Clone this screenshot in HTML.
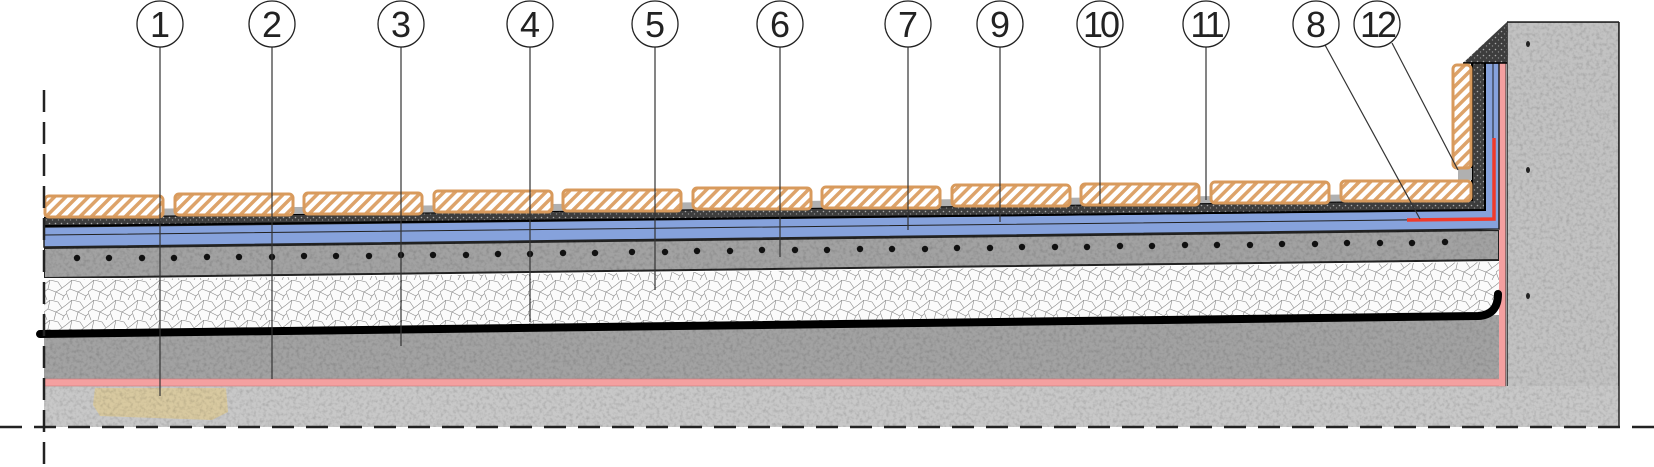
<!DOCTYPE html>
<html><head><meta charset="utf-8"><style>
html,body{margin:0;padding:0;background:#fff;}
svg{display:block;}
text{font-family:"Liberation Sans",sans-serif;}
</style></head><body>
<svg width="1654" height="467" viewBox="0 0 1654 467" xmlns="http://www.w3.org/2000/svg">
<defs>
<filter id="grain" x="0" y="0" width="100%" height="100%">
<feTurbulence type="fractalNoise" baseFrequency="0.3" numOctaves="2" seed="3" result="n"/>
<feColorMatrix in="n" type="matrix" values="0 0 0 0 0.5  0 0 0 0 0.5  0 0 0 0 0.5  0 0 0 1.2 -0.5" result="m"/>
<feComposite in="m" in2="SourceGraphic" operator="in" result="c"/>
<feBlend in="c" in2="SourceGraphic" mode="multiply"/>
</filter>
<pattern id="hatch" width="8" height="8" patternUnits="userSpaceOnUse" patternTransform="rotate(45)">
<rect width="8" height="8" fill="#fff"/><rect width="3.5" height="8" fill="#dda36a"/>
</pattern>
<pattern id="eps" width="22" height="20" patternUnits="userSpaceOnUse">
<rect width="22" height="20" fill="#fbfbfb"/>
<path d="M0 5 L6 0 L14 2 L18 8 L22 5 M6 0 L4 9 L0 12 M4 9 L12 12 L18 8 M12 12 L10 20 M12 12 L20 16 L22 14 M0 12 L3 20 M20 16 L18 20" stroke="#888" stroke-width="0.6" fill="none"/>
</pattern>
<pattern id="gravel" width="6" height="6" patternUnits="userSpaceOnUse">
<rect width="6" height="6" fill="#3d3d3d"/><circle cx="1.5" cy="1.5" r="0.8" fill="#aaa"/><circle cx="4.5" cy="4" r="0.7" fill="#888"/>
</pattern>
</defs>

<rect x="1507" y="22" width="112" height="405" fill="#c2c2c2" stroke="#222" stroke-width="1.5" filter="url(#grain)"/>
<rect x="44" y="386" width="1575" height="41" fill="#c8c8c8" filter="url(#grain)"/>
<line x1="1507" y1="22" x2="1619" y2="22" stroke="#222" stroke-width="1.5"/>
<line x1="1619" y1="22" x2="1619" y2="427" stroke="#222" stroke-width="1.5"/>
<ellipse cx="1528" cy="44" rx="2" ry="3" fill="#222"/>
<ellipse cx="1528" cy="170" rx="2" ry="3" fill="#222"/>
<ellipse cx="1528" cy="296" rx="2" ry="3" fill="#222"/>
<path d="M95 388 L226 388 L228 412 L212 420 L100 416 L93 405 Z" fill="#d8c9a0" filter="url(#grain)"/>

<polygon points="44,333 1499,315 1499,379 44,379" fill="#a2a2a2" filter="url(#grain)"/>
<rect x="44" y="379" width="1462" height="7" fill="#f4a0a0" stroke="#c77" stroke-width="0.6"/>
<rect x="1499" y="63" width="7" height="323" fill="#f4a0a0"/>
<line x1="1506" y1="63" x2="1506" y2="386" stroke="#333" stroke-width="1"/>

<path d="M44 280 L1499 262 L1499 292 Q1499 312 1480 313 L44 331 Z" fill="url(#eps)"/>
<path d="M40 334 L1478 316 Q1498 315 1498 294" stroke="#000" stroke-width="8" fill="none" stroke-linecap="round"/>

<polygon points="44,248 1499,230 1499,260 44,278" fill="#a2a2a2" stroke="#222" stroke-width="2" filter="url(#grain)"/>
<g fill="#111">
<circle cx="77" cy="258" r="3.2"/><circle cx="109" cy="258" r="3.2"/><circle cx="142" cy="258" r="3.2"/><circle cx="174" cy="258" r="3.2"/><circle cx="207" cy="257" r="3.2"/><circle cx="239" cy="257" r="3.2"/><circle cx="272" cy="257" r="3.2"/><circle cx="304" cy="256" r="3.2"/><circle cx="336" cy="256" r="3.2"/><circle cx="369" cy="256" r="3.2"/><circle cx="401" cy="255" r="3.2"/><circle cx="433" cy="255" r="3.2"/><circle cx="466" cy="255" r="3.2"/><circle cx="498" cy="254" r="3.2"/><circle cx="530" cy="254" r="3.2"/><circle cx="563" cy="253" r="3.2"/><circle cx="595" cy="253" r="3.2"/><circle cx="632" cy="252" r="3.2"/><circle cx="665" cy="252" r="3.2"/><circle cx="697" cy="251" r="3.2"/><circle cx="730" cy="251" r="3.2"/><circle cx="762" cy="250" r="3.2"/><circle cx="795" cy="250" r="3.2"/><circle cx="827" cy="250" r="3.2"/><circle cx="860" cy="249" r="3.2"/><circle cx="892" cy="249" r="3.2"/><circle cx="925" cy="249" r="3.2"/><circle cx="957" cy="248" r="3.2"/><circle cx="990" cy="248" r="3.2"/><circle cx="1022" cy="247" r="3.2"/><circle cx="1055" cy="247" r="3.2"/><circle cx="1087" cy="247" r="3.2"/><circle cx="1120" cy="246" r="3.2"/><circle cx="1152" cy="246" r="3.2"/><circle cx="1185" cy="245" r="3.2"/><circle cx="1217" cy="245" r="3.2"/><circle cx="1250" cy="245" r="3.2"/><circle cx="1282" cy="244" r="3.2"/><circle cx="1315" cy="244" r="3.2"/><circle cx="1347" cy="243" r="3.2"/><circle cx="1380" cy="243" r="3.2"/><circle cx="1412" cy="243" r="3.2"/><circle cx="1445" cy="242" r="3.2"/>
</g>

<path d="M44 227 L1485 210 L1485 63 L1499 63 L1499 229 L44 247 Z" fill="#86a2dc" stroke="#222" stroke-width="1.5"/>
<path d="M44 235 L1493 219 L1493 63" stroke="#222" stroke-width="1" fill="none"/>
<path d="M1407 220 L1494 219 L1494 138" stroke="#f03a2a" stroke-width="3.5" fill="none"/>

<path d="M44 217 L1472 200 L1472 63 L1463 63 L1507 22 L1507 63 L1485 63 L1485 210 L44 226 Z" fill="url(#gravel)"/>
<path d="M44 217 L1472 200 L1472 63" stroke="#000" stroke-width="2" fill="none"/>
<path d="M44 226 L1485 210 L1485 63" stroke="#000" stroke-width="2" fill="none"/>
<line x1="1463" y1="63" x2="1507" y2="63" stroke="#000" stroke-width="1.5"/>

<path d="M44 210 L1472 193 L1472 200 L44 217 Z" fill="#b0b0b0"/>
<rect x="1458" y="168" width="14" height="12" fill="#b0b0b0"/>
<g fill="url(#hatch)" stroke="#d89a5c" stroke-width="3">
<rect x="45" y="196" width="118" height="21" rx="4"/>
<rect x="175" y="194" width="118" height="21" rx="4"/>
<rect x="304" y="193" width="118" height="21" rx="4"/>
<rect x="434" y="191" width="118" height="21" rx="4"/>
<rect x="563" y="190" width="118" height="21" rx="4"/>
<rect x="693" y="188" width="118" height="21" rx="4"/>
<rect x="822" y="187" width="118" height="21" rx="4"/>
<rect x="952" y="185" width="118" height="21" rx="4"/>
<rect x="1081" y="184" width="118" height="21" rx="4"/>
<rect x="1211" y="182" width="118" height="21" rx="4"/>
<rect x="1341" y="181" width="130" height="20" rx="4"/>
<rect x="1453" y="65" width="18" height="103" rx="4"/>
</g>

<line x1="44" y1="90" x2="44" y2="467" stroke="#222" stroke-width="2.5" stroke-dasharray="22,10"/>
<line x1="0" y1="427" x2="1654" y2="427" stroke="#222" stroke-width="2.5" stroke-dasharray="22,12"/>

<g stroke="#333" stroke-width="1.2" fill="none">
<line x1="160" y1="47" x2="160" y2="396"/>
<line x1="272" y1="47" x2="272" y2="379"/>
<line x1="401" y1="47" x2="401" y2="346"/>
<line x1="530" y1="47" x2="530" y2="322"/>
<line x1="655" y1="47" x2="655" y2="290"/>
<line x1="780" y1="47" x2="780" y2="257"/>
<line x1="908" y1="47" x2="908" y2="230"/>
<line x1="1000" y1="47" x2="1000" y2="222"/>
<line x1="1100" y1="47" x2="1100" y2="204"/>
<line x1="1206" y1="47" x2="1206" y2="200"/>
<line x1="1325" y1="45" x2="1420" y2="219"/>
<line x1="1392" y1="43" x2="1458" y2="170"/>
</g>
<g fill="#fff" stroke="#222" stroke-width="1.3">
<circle cx="160" cy="24" r="23"/><circle cx="272" cy="24" r="23"/><circle cx="401" cy="24" r="23"/><circle cx="530" cy="24" r="23"/><circle cx="655" cy="24" r="23"/><circle cx="780" cy="24" r="23"/><circle cx="908" cy="24" r="23"/><circle cx="1000" cy="24" r="23"/><circle cx="1100" cy="24" r="23"/><circle cx="1206" cy="24" r="23"/><circle cx="1316" cy="24" r="23"/><circle cx="1377" cy="24" r="23"/>
</g>
<g font-size="36" fill="#222" text-anchor="middle">
<text x="160" y="37">1</text><text x="272" y="37">2</text><text x="401" y="37">3</text><text x="530" y="37">4</text><text x="655" y="37">5</text><text x="780" y="37">6</text><text x="908" y="37">7</text><text x="1000" y="37">9</text><text x="1100" y="37" letter-spacing="-3">10</text><text x="1206" y="37" letter-spacing="-3">11</text><text x="1316" y="37">8</text><text x="1377" y="37" letter-spacing="-3">12</text>
</g>
</svg>
</body></html>
